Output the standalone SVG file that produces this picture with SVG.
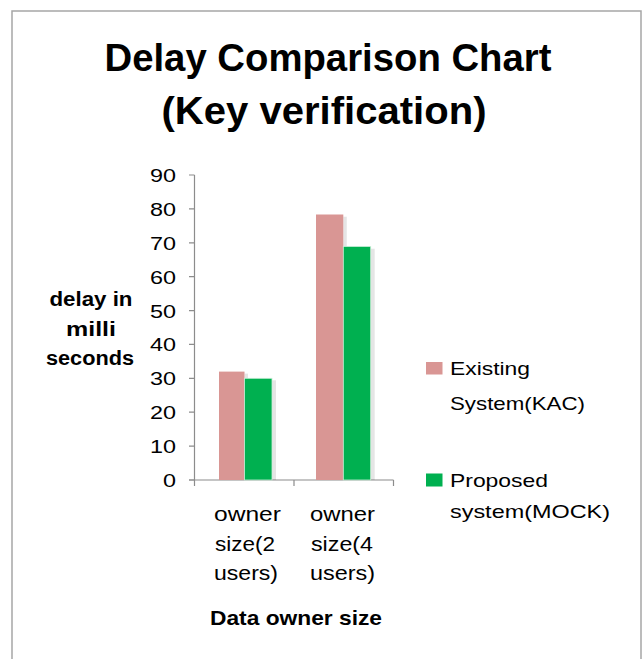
<svg xmlns="http://www.w3.org/2000/svg" width="643" height="659" viewBox="0 0 643 659">
  <style>
    .frame { fill: #ffffff; stroke: #a6a6a6; stroke-width: 1.5; }
    .title { font-family: "Liberation Sans", Arial, sans-serif; font-weight: bold; font-size: 38px; fill: #000; text-anchor: middle; }
    .tick { font-family: "Liberation Sans", Arial, sans-serif; font-size: 18.5px; fill: #000; text-anchor: end; }
    .cat { font-family: "Liberation Sans", Arial, sans-serif; font-size: 21px; fill: #000; text-anchor: middle; }
    .axtitle { font-family: "Liberation Sans", Arial, sans-serif; font-weight: bold; font-size: 20px; fill: #000; text-anchor: middle; }
    .leg { font-family: "Liberation Sans", Arial, sans-serif; font-size: 18.5px; fill: #000; }
    .axis { stroke: #8c8c8c; stroke-width: 1.2; fill: none; }
    .kac { fill: #d99694; }
    .mock { fill: #00b050; stroke: #c8eed6; stroke-width: 0.8; }
    .shadow { fill: #000; opacity: 0.1; }
  </style>

  <rect width="643" height="659" fill="#ffffff"/>
  <rect class="frame" x="12" y="11" width="629" height="660"/>

  <!-- chart title -->
  <g id="title">
    <text class="title" x="328" y="71" textLength="447" lengthAdjust="spacingAndGlyphs">Delay Comparison Chart</text>
    <text class="title" x="324" y="124" textLength="325" lengthAdjust="spacingAndGlyphs">(Key verification)</text>
  </g>

  <!-- value axis with ticks and labels -->
  <g id="value-axis">
    <path class="axis" d="M194.5 175 V486 M189 175 H194.5 M189 208.9 H194.5 M189 242.8 H194.5 M189 276.7 H194.5 M189 310.6 H194.5 M189 344.4 H194.5 M189 378.3 H194.5 M189 412.2 H194.5 M189 446.1 H194.5 M189 480 H194.5"/>
    <text class="tick" x="176" y="182" textLength="26" lengthAdjust="spacingAndGlyphs">90</text>
    <text class="tick" x="176" y="216" textLength="26" lengthAdjust="spacingAndGlyphs">80</text>
    <text class="tick" x="176" y="250" textLength="26" lengthAdjust="spacingAndGlyphs">70</text>
    <text class="tick" x="176" y="284" textLength="26" lengthAdjust="spacingAndGlyphs">60</text>
    <text class="tick" x="176" y="318" textLength="26" lengthAdjust="spacingAndGlyphs">50</text>
    <text class="tick" x="176" y="351" textLength="26" lengthAdjust="spacingAndGlyphs">40</text>
    <text class="tick" x="176" y="385" textLength="26" lengthAdjust="spacingAndGlyphs">30</text>
    <text class="tick" x="176" y="419" textLength="26" lengthAdjust="spacingAndGlyphs">20</text>
    <text class="tick" x="176" y="453" textLength="26" lengthAdjust="spacingAndGlyphs">10</text>
    <text class="tick" x="176" y="487" textLength="13" lengthAdjust="spacingAndGlyphs">0</text>
  </g>

  <g id="value-axis-title">
    <text class="axtitle" x="91" y="306" textLength="83" lengthAdjust="spacingAndGlyphs">delay in</text>
    <text class="axtitle" x="91" y="336" textLength="50" lengthAdjust="spacingAndGlyphs">milli</text>
    <text class="axtitle" x="90" y="365" textLength="88" lengthAdjust="spacingAndGlyphs">seconds</text>
  </g>

  <!-- category axis -->
  <g id="category-axis">
    <path class="axis" d="M189 480 H393.5 M294 480 V486 M393.5 480 V486"/>
    <text class="cat" x="247.5" y="521" textLength="67" lengthAdjust="spacingAndGlyphs">owner</text>
    <text class="cat" x="245" y="551" textLength="60" lengthAdjust="spacingAndGlyphs">size(2</text>
    <text class="cat" x="246" y="580" textLength="64" lengthAdjust="spacingAndGlyphs">users)</text>
    <text class="cat" x="342.5" y="521" textLength="65" lengthAdjust="spacingAndGlyphs">owner</text>
    <text class="cat" x="342" y="551" textLength="62" lengthAdjust="spacingAndGlyphs">size(4</text>
    <text class="cat" x="342.5" y="580" textLength="65" lengthAdjust="spacingAndGlyphs">users)</text>
  </g>

  <g id="category-axis-title">
    <text class="axtitle" x="296" y="625" style="font-size:21px" textLength="172" lengthAdjust="spacingAndGlyphs">Data owner size</text>
  </g>

  <!-- bars: group 1 (2 users) -->
  <g id="bars-2-users">
    <rect class="shadow" x="244.5" y="373.6" width="3.5" height="106.4"/>
    <rect class="shadow" x="272" y="380.3" width="4" height="99.7"/>
    <rect class="kac" x="219" y="371.6" width="25.5" height="108.4"/>
    <rect class="mock" x="244.5" y="378.3" width="27.5" height="101.7"/>
  </g>

  <!-- bars: group 2 (4 users) -->
  <g id="bars-4-users">
    <rect class="shadow" x="343.3" y="216.7" width="3.5" height="263.3"/>
    <rect class="shadow" x="370.7" y="248.7" width="4" height="231.3"/>
    <rect class="kac" x="316" y="214.5" width="27.3" height="265.5"/>
    <rect class="mock" x="343.3" y="246.5" width="27.4" height="233.5"/>
  </g>

  <!-- legend -->
  <g id="legend-kac">
    <rect class="kac" x="426" y="362" width="16.5" height="12.5"/>
    <text class="leg" x="450" y="374.5" textLength="80" lengthAdjust="spacingAndGlyphs">Existing</text>
    <text class="leg" x="450" y="410" textLength="135" lengthAdjust="spacingAndGlyphs">System(KAC)</text>
  </g>
  <g id="legend-mock">
    <rect class="mock" x="426" y="473.5" width="16.5" height="13" style="stroke:none"/>
    <text class="leg" x="450" y="486.7" textLength="98" lengthAdjust="spacingAndGlyphs">Proposed</text>
    <text class="leg" x="450" y="518.3" textLength="160" lengthAdjust="spacingAndGlyphs">system(MOCK)</text>
  </g>
</svg>
